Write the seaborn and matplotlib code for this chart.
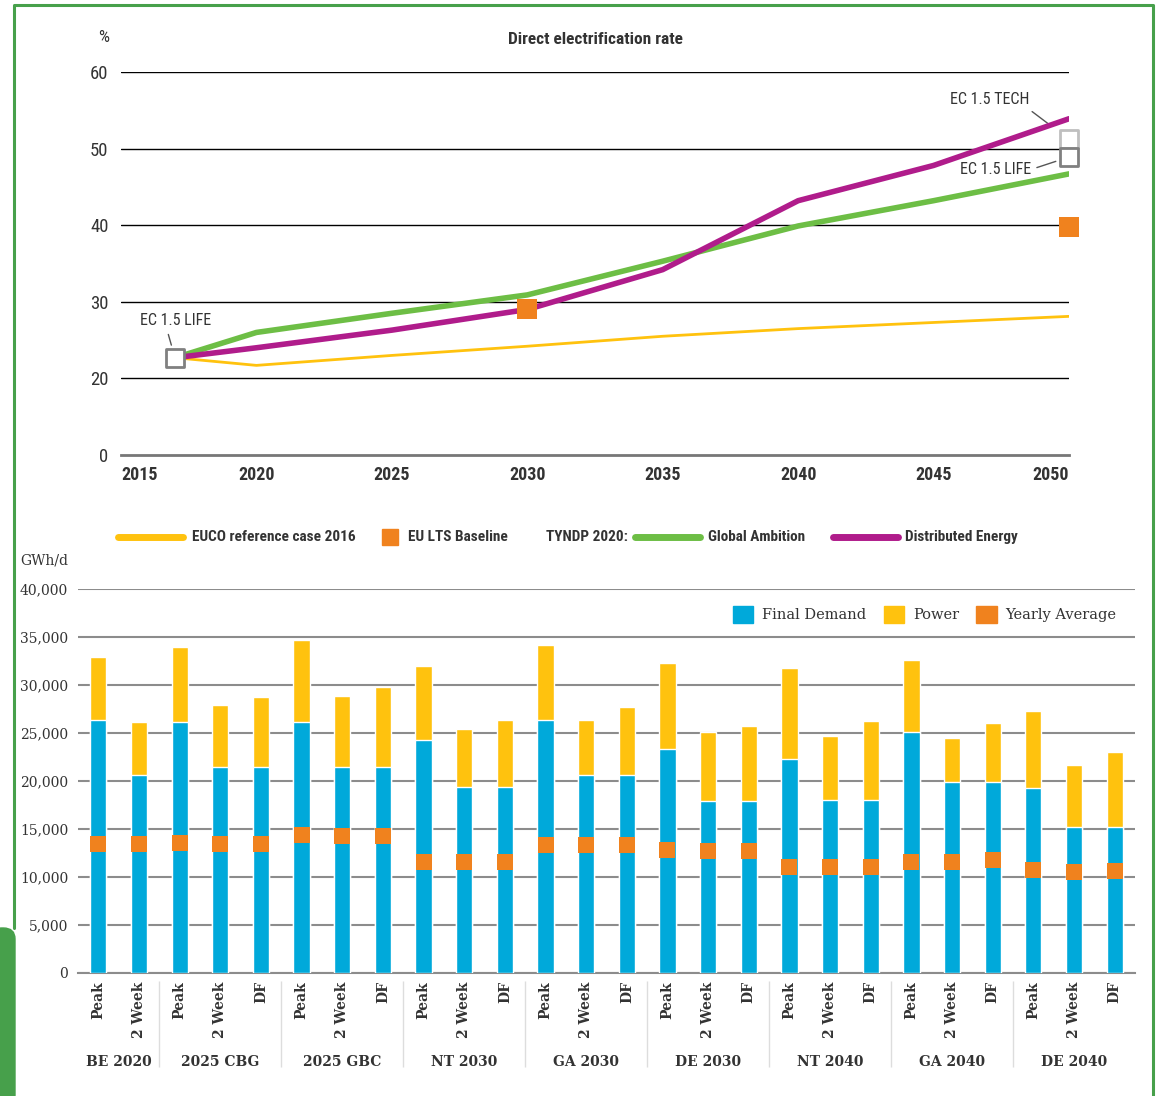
import matplotlib
matplotlib.use('Agg')
import matplotlib.pyplot as plt
import seaborn as sns
import pandas as pd
from matplotlib.lines import Line2D
from matplotlib.patches import Patch, Rectangle, FancyBboxPatch

# ---- top chart: direct electrification rate (%) ----
years = [2017, 2020, 2025, 2030, 2035, 2040, 2045, 2050]
euco_2016 = [22.7, 21.7, 23.0, 24.2, 25.5, 26.5, 27.3, 28.1]
global_ambition = [22.7, 26.0, 28.5, 30.9, 35.3, 39.9, 43.2, 46.7]
distributed_energy = [22.7, 24.0, 26.3, 29.0, 34.2, 43.2, 47.8, 53.9]
lts_years = [2030, 2050]
lts_baseline = [29.0, 39.7]
life_years = [2017, 2050]
ec15_life = [22.6, 48.9]
tech_years = [2050]
ec15_tech = [51.2]

# ---- bottom chart: GWh/d ----
scenarios = ['BE 2020', '2025 CBG', '2025 GBC', 'NT 2030', 'GA 2030',
             'DE 2030', 'NT 2040', 'GA 2040', 'DE 2040']
cases = [['Peak', '2 Week']] + [['Peak', '2 Week', 'DF']] * 8
final_demand = [26400, 20600,
                26100, 21500, 21500,
                26100, 21500, 21500,
                24300, 19400, 19400,
                26400, 20600, 20600,
                23300, 17900, 17900,
                22300, 18050, 18050,
                25100, 19900, 19900,
                19300, 15200, 15200]
power = [6500, 5500,
         7900, 6450, 7200,
         8600, 7350, 8250,
         7700, 6000, 7000,
         7800, 5800, 7100,
         9000, 7200, 7800,
         9500, 6600, 8250,
         7500, 4600, 6100,
         8000, 6500, 7800]
yearly_average = [13400, 13400,
                  13500, 13400, 13400,
                  14400, 14300, 14300,
                  11600, 11600, 11600,
                  13300, 13300, 13300,
                  12800, 12700, 12700,
                  11000, 11000, 11000,
                  11600, 11600, 11800,
                  10700, 10500, 10600]

C_YELLOW = '#FFC20E'
C_GREEN = '#6DBE45'
C_MAGENTA = '#B01C8B'
C_ORANGE = '#F0821E'
C_BLUE = '#00A9DA'
C_FRAME = '#47A04B'
TXT = '#333333'
COND = ['Roboto Condensed', 'DejaVu Sans']
SERIF = ['DejaVu Serif']

sns.set_style('white')
W, H = 1158, 1096
fig = plt.figure(figsize=(W / 100, H / 100), dpi=100)

# ================= top line chart =================
ax1 = fig.add_axes([121 / W, 1 - 455 / H, 948 / W, 383 / H])

lines = pd.DataFrame({'year': years, 'euco': euco_2016,
                      'ga': global_ambition, 'de': distributed_energy})
sns.lineplot(data=lines, x='year', y='euco', color=C_YELLOW, lw=2, ax=ax1, zorder=3)
sns.lineplot(data=lines, x='year', y='ga', color=C_GREEN, lw=4, ax=ax1, zorder=4)
sns.lineplot(data=lines, x='year', y='de', color=C_MAGENTA, lw=4, ax=ax1, zorder=5)

sns.scatterplot(x=lts_years, y=lts_baseline, marker='s', s=200, color=C_ORANGE,
                linewidth=0, ax=ax1, zorder=6, clip_on=False)
sns.scatterplot(x=tech_years, y=ec15_tech, marker='s', s=150, facecolor='white',
                edgecolor='#BFBFBF', linewidth=2, ax=ax1, zorder=6, clip_on=False)
sns.scatterplot(x=life_years, y=ec15_life, marker='s', s=150, facecolor='white',
                edgecolor='#808080', linewidth=2, ax=ax1, zorder=7, clip_on=False)

ax1.set_xlim(2015, 2050)
ax1.set_ylim(10, 60)
ax1.set_yticks([10, 20, 30, 40, 50, 60])
ax1.set_yticklabels(['0', '20', '30', '40', '50', '60'], family=COND,
                    stretch='condensed', fontsize=13.5, color=TXT)
ax1.set_xticks(range(2015, 2051, 5))
ax1.set_xticklabels([str(y) for y in range(2015, 2051, 5)], family=COND,
                    stretch='condensed', fontsize=13, fontweight='bold', color=TXT)
xt = ax1.get_xticklabels()
xt[0].set_ha('left')
xt[-1].set_ha('right')
ax1.set_xlabel('')
ax1.set_ylabel('')
ax1.tick_params(axis='y', length=0, pad=9)
ax1.tick_params(axis='x', direction='out', length=5, width=1.5, color='#777777', pad=3)
for y in [20, 30, 40, 50, 60]:
    ax1.axhline(y, color='black', lw=1, zorder=1)
for s in ['left', 'right', 'top']:
    ax1.spines[s].set_visible(False)
ax1.spines['bottom'].set_color('#777777')
ax1.spines['bottom'].set_linewidth(2)

ann = dict(arrowstyle='-', color='#555555', lw=1)
afont = dict(family=COND, stretch='condensed', fontsize=11.5, color=TXT,
             ha='center', va='center', textcoords='offset points')
ax1.annotate('EC 1.5 LIFE', xy=(life_years[0], ec15_life[0]), xytext=(0, 27),
             arrowprops=dict(ann, shrinkA=2, shrinkB=10, relpos=(0.38, 0)), **afont)
ax1.annotate('EC 1.5 TECH', xy=(tech_years[0], ec15_tech[0]), xytext=(-57, 29),
             arrowprops=dict(ann, shrinkA=2, shrinkB=16, relpos=(0.95, 0)), **afont)
ax1.annotate('EC 1.5 LIFE', xy=(life_years[1], ec15_life[1]), xytext=(-53, -9),
             arrowprops=dict(ann, shrinkA=2, shrinkB=10, relpos=(1, 0.5)), **afont)

fig.text(595 / W, 1 - 40 / H, 'Direct electrification rate', ha='center', va='center',
         family=COND, stretch='condensed', fontsize=12.5, fontweight='bold', color=TXT)
fig.text(104 / W, 1 - 37 / H, '%', ha='center', va='center', family=COND,
         stretch='condensed', fontsize=12.5, color=TXT)

# legend row between the charts (manual, to keep the "TYNDP 2020:" label in line)
ly = 1 - 537 / H
leg_font = dict(family=COND, stretch='condensed', fontsize=11, fontweight='bold',
                color=TXT, va='center')
fig.add_artist(Line2D([118 / W, 183 / W], [ly, ly], color=C_YELLOW, lw=5,
                      solid_capstyle='round'))
fig.text(192 / W, ly, 'EUCO reference case 2016', **leg_font)
fig.add_artist(Rectangle((382 / W, ly - 8 / H), 16 / W, 16 / H, color=C_ORANGE,
                         transform=fig.transFigure))
fig.text(408 / W, ly, 'EU LTS Baseline', **leg_font)
fig.text(546 / W, ly, 'TYNDP 2020:', **leg_font)
fig.add_artist(Line2D([635 / W, 700 / W], [ly, ly], color=C_GREEN, lw=5,
                      solid_capstyle='round'))
fig.text(708 / W, ly, 'Global Ambition', **leg_font)
fig.add_artist(Line2D([833 / W, 898 / W], [ly, ly], color=C_MAGENTA, lw=5,
                      solid_capstyle='round'))
fig.text(905 / W, ly, 'Distributed Energy', **leg_font)

# ================= bottom stacked bar chart =================
ax2 = fig.add_axes([78 / W, 1 - 973 / H, 1057 / W, 384 / H])

rows = []
for sc, cs in zip(scenarios, cases):
    for c in cs:
        rows.append((sc, c))
df = pd.DataFrame(rows, columns=['scenario', 'case'])
df['key'] = df['scenario'] + '|' + df['case']
df['final_demand'] = final_demand
df['power'] = power
df['total'] = df['final_demand'] + df['power']
df['yearly_average'] = yearly_average
order = list(df['key'])

sns.barplot(data=df, x='key', y='total', order=order, color=C_YELLOW, width=0.4,
            saturation=1, ax=ax2, zorder=2)
sns.barplot(data=df, x='key', y='final_demand', order=order, color=C_BLUE, width=0.4,
            saturation=1, ax=ax2, zorder=3)
sns.stripplot(data=df, x='key', y='yearly_average', order=order, jitter=False,
              marker='s', size=11.5, color=C_ORANGE, linewidth=0, ax=ax2, zorder=4)

n = len(df)
ax2.set_xlim(-0.5, n - 0.5)
ax2.set_ylim(0, 40000)
ax2.set_yticks(range(0, 40001, 5000))
ax2.set_yticklabels([f'{v:,}' for v in range(0, 40001, 5000)], family=SERIF,
                    fontsize=10, color=TXT)
ax2.set_xticks(range(n))
ax2.set_xticklabels(df['case'], rotation=90, family=SERIF, fontsize=10,
                    fontweight='bold', color=TXT)
ax2.set_xlabel('')
ax2.set_ylabel('')
ax2.tick_params(axis='y', length=0, pad=7)
ax2.tick_params(axis='x', length=0, pad=6)
ax2.grid(axis='y', color='#8C8C8C', lw=1.5, zorder=0)
ax2.set_axisbelow(True)
for s in ['left', 'right', 'top']:
    ax2.spines[s].set_visible(False)
ax2.spines['bottom'].set_color('#8C8C8C')
ax2.spines['bottom'].set_linewidth(1.5)

# group labels and separators
start = 0
for sc, cs in zip(scenarios, cases):
    end = start + len(cs)
    ax2.text((start + end - 1) / 2, -0.232, sc, transform=ax2.get_xaxis_transform(),
             ha='center', va='center', family=SERIF, fontsize=10, fontweight='bold',
             color=TXT)
    if end < n:
        ax2.vlines(end - 0.5, -0.245, -0.022, transform=ax2.get_xaxis_transform(),
                   color='#DDDDDD', lw=1, clip_on=False)
    start = end

handles = [Patch(color=C_BLUE, label='Final Demand'),
           Patch(color=C_YELLOW, label='Power'),
           Patch(color=C_ORANGE, label='Yearly Average')]
ax2.legend(handles=handles, loc='upper right', bbox_to_anchor=(0.995, 0.99), ncol=3,
           frameon=False, handlelength=1.4, handleheight=1.4, handletextpad=0.6,
           columnspacing=1.2, prop={'family': SERIF, 'size': 10.5}, labelcolor=TXT)

fig.text(20 / W, 1 - 561 / H, 'GWh/d', ha='left', va='center', family=SERIF,
         fontsize=10, color=TXT)

# green page frame
fig.add_artist(Line2D([14 / W, 14 / W, 1153 / W, 1153 / W],
                      [1 - 928 / H, 1 - 5 / H, 1 - 5 / H, 0],
                      color=C_FRAME, lw=2.2))
fig.add_artist(FancyBboxPatch((-10 / W, -10 / H), 25 / W, (1096 - 928 + 10) / H,
                              boxstyle='round,pad=0,rounding_size=0.01',
                              color=C_FRAME, transform=fig.transFigure))

fig.savefig('out.png', dpi=100)
